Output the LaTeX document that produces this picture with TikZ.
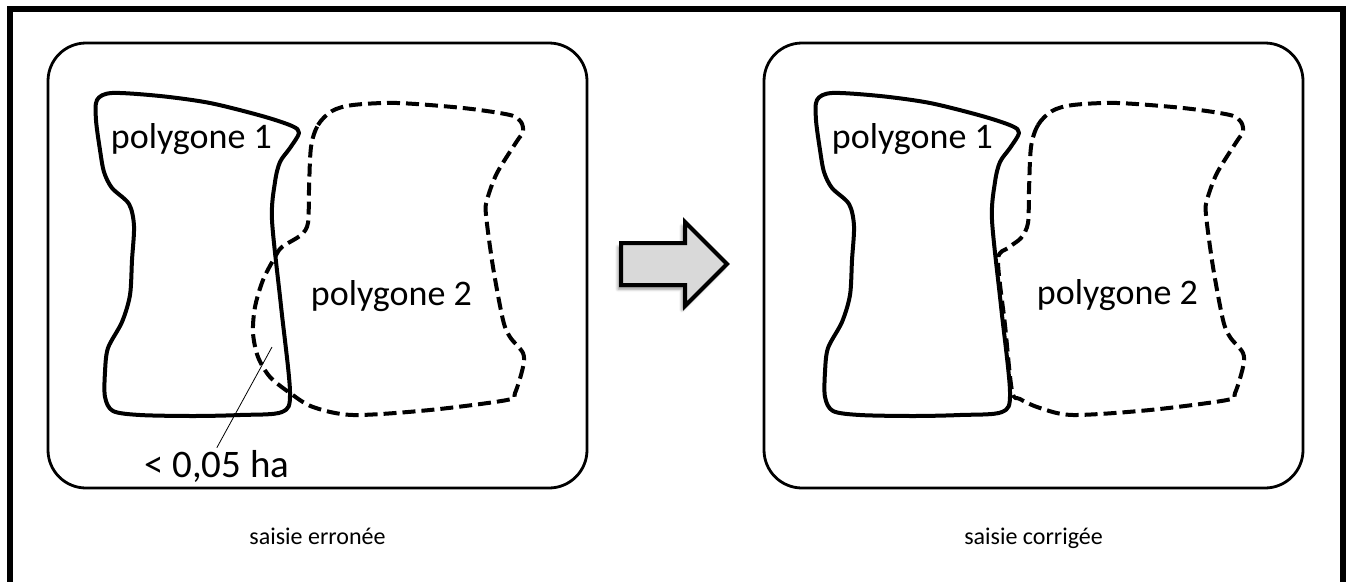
\documentclass[tikz,border=0pt]{standalone}
\usepackage{fontspec}
\setmainfont{Carlito}
\usepackage{tikz}
\usetikzlibrary{shadows.blur}
\definecolor{grisfleche}{RGB}{217, 217, 217}

\begin{document}
\begin{tikzpicture}[x=1pt,y=1pt,yscale=-1,
  cadre/.style={draw,line width=2.8pt,rounded corners=38pt},
  trait/.style={line width=4pt,line join=round},
  pointille/.style={line width=4pt,line join=round,dash pattern={on 13pt off 6pt}},
  etiquette/.style={anchor=base west,inner sep=0.75pt,font=\fontsize{36}{42}\selectfont},
  legende/.style={anchor=base,inner sep=0.75pt,font=\fontsize{24}{29}\selectfont}]
\useasboundingbox (0,0) rectangle (1346,581);

%Outer frame
\draw [line width=6pt]  (10,600) -- (10,9) -- (1343,9) -- (1343,600) ;
%Rounded Rect [left]
\draw [cadre]  (48,43) rectangle (587,488) ;
%Rounded Rect [right]
\draw [cadre]  (764,43) rectangle (1303,488) ;

%Polygone 1 [left]
\draw [trait]  plot [smooth cycle, tension=0.5] coordinates {(97,100) (112,93) (160,96) (210,103) (262,116) (292,126) (299,133) (290,148) (280,162) (275,182) (272,220) (281,306) (290,392) (282,412) (240,415) (193,416) (140,415) (113,411) (105,397) (105,372) (108,348) (122,322) (130,295) (132,260) (134,226) (129,204) (112,188) (104,172) (100,150) (96,120)} ;
%Polygone 2 [left]
\draw [pointille]  plot [smooth cycle, tension=0.5] coordinates {(311,147) (318,125) (332,111) (353,105) (397,103) (463,108) (510,115) (521,122) (523,132) (517,141) (497,173) (487,200) (486,215) (493,267) (503,320) (510,337) (523,353) (523,367) (515,393) (507,400) (430,410) (353,415) (313,407) (290,393) (270,377) (258,357) (253,333) (255,307) (263,280) (275,257) (282,247) (301,235) (308,223) (309,190)} ;

%Polygone 1 [right]
\begin{scope}[xshift=720]
\draw [trait]  plot [smooth cycle, tension=0.5] coordinates {(97,100) (112,93) (160,96) (210,103) (262,116) (292,126) (299,133) (290,148) (280,162) (275,182) (272,220) (281,306) (290,392) (282,412) (240,415) (193,416) (140,415) (113,411) (105,397) (105,372) (108,348) (122,322) (130,295) (132,260) (134,226) (129,204) (112,188) (104,172) (100,150) (96,120)} ;
\end{scope}
%Polygone 2 [right]
\draw [pointille]  plot [smooth cycle, tension=0.5] coordinates {(1031,147) (1038,125) (1052,111) (1073,105) (1117,103) (1183,108) (1230,115) (1241,122) (1243,132) (1237,141) (1217,173) (1207,200) (1206,215) (1213,267) (1223,320) (1230,337) (1243,353) (1243,367) (1235,393) (1227,400) (1150,410) (1073,415) (1040,408) (1020,399) (1012,391) (1005,325) (998,260) (1008,248) (1021,238) (1028,223) (1029,190)} ;

%Arrow
\draw [line width=4pt, miter limit=10, fill=grisfleche, blur shadow={shadow xshift=-3pt, shadow yshift=-4pt, shadow blur radius=3pt, shadow opacity=45}]  (621,243) -- (685,243) -- (685,222) -- (727,264) -- (685,306) -- (685,285) -- (621,285) -- cycle ;

% Text Node
\node [etiquette] (poly1g) at (110,148) {polygone 1};
% Text Node
\node [etiquette] (poly2g) at (310,305) {polygone 2};
% Text Node
\node [etiquette] (poly1d) at (831,148) {polygone 1};
% Text Node
\node [etiquette] (poly2d) at (1036,304) {polygone 2};
% Text Node
\node [anchor=base west, inner sep=2pt, font=\fontsize{39}{46}\selectfont] (seuil) at (142,477) {< 0,05 ha};
\coordinate (recouvrement) at (272,347);
\draw [line width=0.8pt]  (recouvrement) -- (seuil.north) ;
% Text Node
\node [legende] (avant) at (317.5,544) {saisie erronée};
% Text Node
\node [legende] (apres) at (1033.5,544) {saisie corrigée};

\end{tikzpicture}
\end{document}
